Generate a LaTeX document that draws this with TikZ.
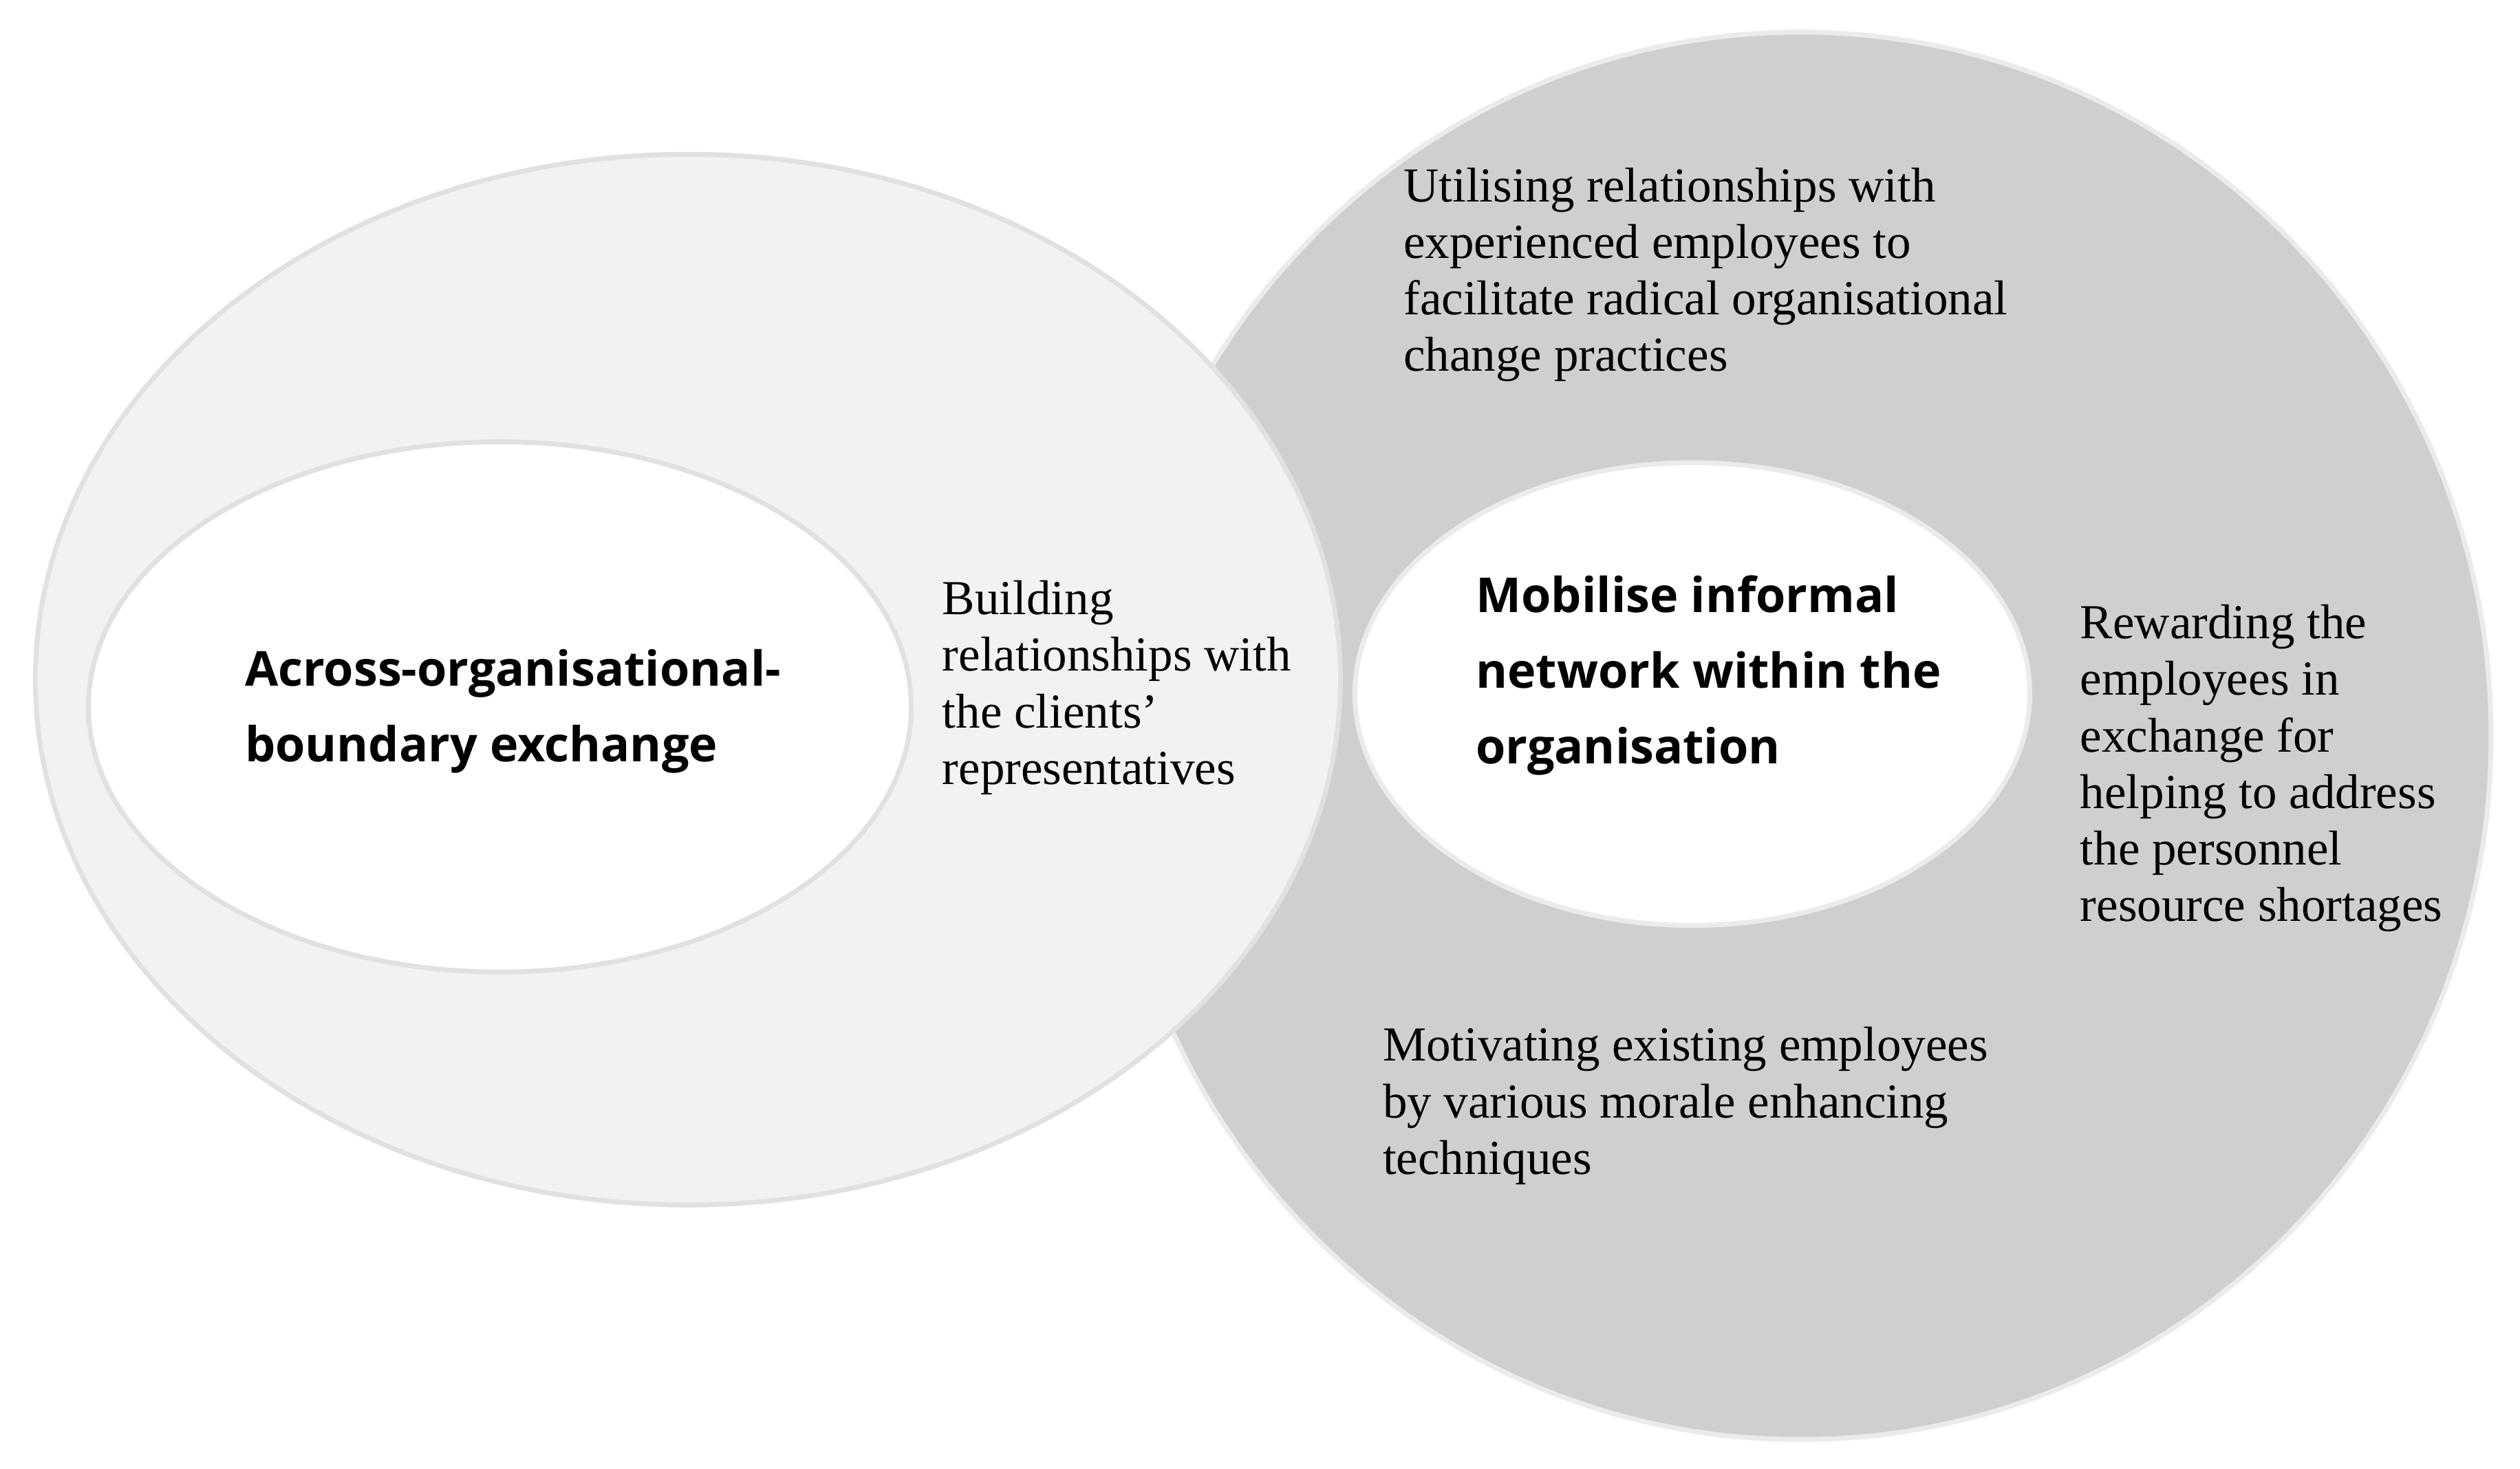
\documentclass[tikz,border=0pt]{standalone}
\usepackage{fontspec}
\setmainfont{Liberation Serif}
\newfontfamily\headfont{Open Sans}
\begin{document}
\begin{tikzpicture}[x=0.5pt,y=-0.5pt,
  body/.style={anchor=north west,align=left,inner sep=0pt,font=\fontsize{15.2}{17.6}\selectfont},
  head/.style={anchor=north west,align=left,inner sep=0pt,font=\headfont\bfseries\fontsize{15}{23.5}\selectfont}]
\useasboundingbox (0,0) rectangle (1568,914);
\fill[fill=white] (0,0) rectangle (1568,914);
\draw[fill={rgb,255:red,208;green,206;blue,206},draw={rgb,255:red,235;green,235;blue,235},line width=1.5pt] (1120,458) ellipse [x radius=430,y radius=438];
\draw[fill={rgb,255:red,242;green,242;blue,242},draw={rgb,255:red,225;green,225;blue,225},line width=1.5pt] (428,423) ellipse [x radius=406,y radius=327];
\draw[fill=white,draw={rgb,255:red,225;green,225;blue,225},line width=1.5pt] (311,440) ellipse [x radius=256,y radius=165];
\draw[fill=white,draw={rgb,255:red,235;green,235;blue,235},line width=1.5pt] (1053,432) ellipse [x radius=210,y radius=144];
\node[head] (across) at (152,404) {Across-organisational-\\boundary exchange};
\node[head] (mob) at (918,358) {Mobilise informal\\network within the\\organisation};
\node[body] (util) at (873,104) {Utilising relationships with\\experienced employees to\\facilitate radical organisational\\change practices};
\node[body] (build) at (586,361) {Building\\relationships with\\the clients'\\representatives};
\node[body] (reward) at (1294,376) {Rewarding the\\employees in\\exchange for\\helping to address\\the personnel\\resource shortages};
\node[body] (motiv) at (860,639) {Motivating existing employees\\by various morale enhancing\\techniques};
\end{tikzpicture}
\end{document}
